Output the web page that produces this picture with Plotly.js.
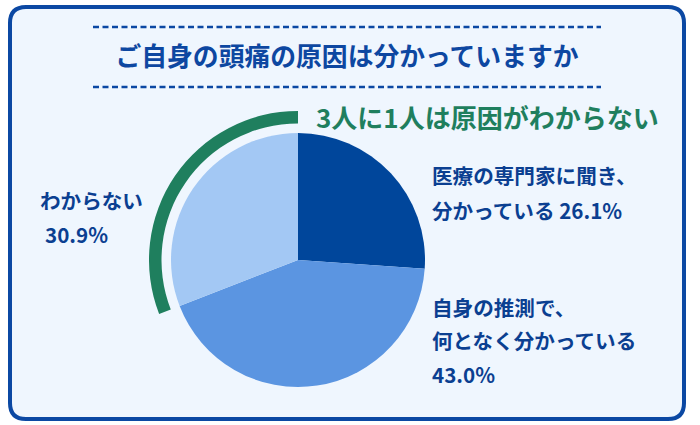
<!DOCTYPE html>
<html>
<head>
<meta charset="utf-8">
<script src="https://cdn.plot.ly/plotly-3.0.1.min.js"></script>
<style>
  html, body { margin: 0; padding: 0; background: #ffffff; }
  #chart { width: 700px; height: 425px; }
</style>
</head>
<body>
<div id="chart"></div>
<script>
// ---- data ----
const chartTitle = "ご自身の頭痛の原因は分かっていますか";
const highlightText = "3人に1人は原因がわからない";
const categories = ["医療の専門家に聞き、分かっている", "自身の推測で、何となく分かっている", "わからない"];
const values = [26.1, 43.0, 30.9];
const labelLines = [
  ["医療の専門家に聞き、", "分かっている "],
  ["自身の推測で、", "何となく分かっている", ""],
  ["わからない", ""]
];
const sliceColors = ["#00469B", "#5B95E1", "#A3C8F4"];
const highlightIndex = 2;

// ---- layout helpers (pixel -> paper) ----
const W = 700, H = 425;
const px = x => x / W;
const py = y => 1 - y / H;
const cx = 298, cy = 260, r = 127;
const ringOuter = 149, ringInner = 136.5;

const FONT = "'Noto Sans CJK JP', 'Noto Sans', sans-serif";
const BLUE_TEXT = "#0B3F91";
const GREEN = "#1F7F5E";

function dom(radius) {
  return {
    x: [px(cx - radius), px(cx + radius)],
    y: [py(cy + radius), py(cy - radius)]
  };
}

const pie = {
  type: "pie",
  labels: categories,
  values: values,
  sort: false,
  direction: "clockwise",
  rotation: 0,
  marker: { colors: sliceColors, line: { width: 0 } },
  textinfo: "none",
  hoverinfo: "skip",
  showlegend: false,
  domain: dom(r)
};

const ring = {
  type: "pie",
  labels: categories,
  values: values,
  sort: false,
  direction: "clockwise",
  rotation: 0,
  hole: ringInner / ringOuter,
  marker: {
    colors: categories.map((c, i) => i === highlightIndex ? GREEN : "rgba(0,0,0,0)"),
    line: { width: 0 }
  },
  textinfo: "none",
  hoverinfo: "skip",
  showlegend: false,
  domain: dom(ringOuter)
};

// rounded rectangle frame
function roundRect(x0, y0, x1, y1, rad) {
  const rx = rad / W, ry = rad / H;
  const X0 = px(x0), X1 = px(x1), Y0 = py(y0), Y1 = py(y1);
  return `M ${X0 + rx},${Y0} L ${X1 - rx},${Y0} Q ${X1},${Y0} ${X1},${Y0 - ry} ` +
         `L ${X1},${Y1 + ry} Q ${X1},${Y1} ${X1 - rx},${Y1} ` +
         `L ${X0 + rx},${Y1} Q ${X0},${Y1} ${X0},${Y1 + ry} ` +
         `L ${X0},${Y0 - ry} Q ${X0},${Y0} ${X0 + rx},${Y0} Z`;
}

const shapes = [
  {
    type: "path", xref: "paper", yref: "paper", layer: "below",
    path: roundRect(10, 7, 684, 419, 16),
    fillcolor: "#EFF6FE",
    line: { color: "#0B48A3", width: 4 }
  },
  {
    type: "line", xref: "paper", yref: "paper", layer: "below",
    x0: px(93), x1: px(601), y0: py(27), y1: py(27),
    line: { color: "#0B48A3", width: 2.5, dash: "6px,3.5px" }
  },
  {
    type: "line", xref: "paper", yref: "paper", layer: "below",
    x0: px(93), x1: px(601), y0: py(87), y1: py(87),
    line: { color: "#0B48A3", width: 2.5, dash: "6px,3.5px" }
  }
];

function ann(text, x, y, opts) {
  return Object.assign({
    text: text, xref: "paper", yref: "paper",
    x: px(x), y: py(y), xanchor: "left", yanchor: "middle",
    showarrow: false,
    font: { family: FONT, size: 20.6, color: BLUE_TEXT, weight: 600 }
  }, opts || {});
}

const pct = v => v.toFixed(1) + "%";

const annotations = [
  ann(highlightText, 314, 117, { font: { family: FONT, size: 26, color: GREEN, weight: 700 } }),
  // slice 0
  ann(labelLines[0][0], 430, 175),
  ann(labelLines[0][1] + pct(values[0]), 430, 210),
  // slice 1
  ann(labelLines[1][0], 430, 307),
  ann(labelLines[1][1], 430, 340),
  ann(labelLines[1][2] + pct(values[1]), 430, 374),
  // slice 2
  ann(labelLines[2][0], 38, 200),
  ann(labelLines[2][1] + pct(values[2]), 43, 234)
];

const layout = {
  width: W, height: H,
  margin: { l: 0, r: 0, t: 0, b: 0 },
  paper_bgcolor: "#ffffff",
  title: {
    text: chartTitle,
    x: px(347), xanchor: "center",
    y: py(57), yanchor: "middle", yref: "paper",
    font: { family: FONT, size: 25.8, color: "#0D47A1", weight: 700 }
  },
  shapes: shapes,
  annotations: annotations,
  showlegend: false
};

Plotly.newPlot("chart", [ring, pie], layout, { displayModeBar: false, staticPlot: true });
</script>
</body>
</html>
